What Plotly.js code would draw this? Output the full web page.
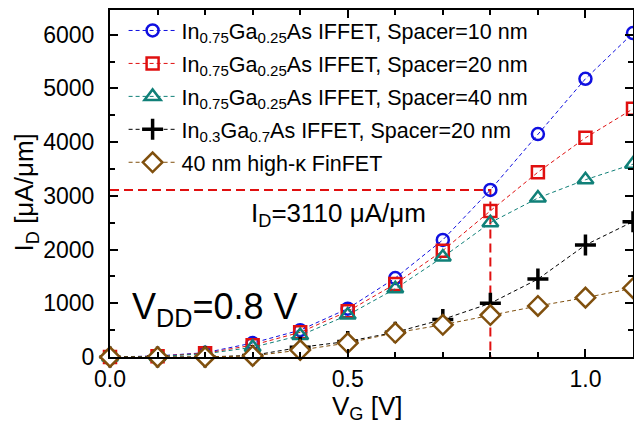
<!DOCTYPE html>
<html>
<head>
<meta charset="utf-8">
<script src="https://cdn.plot.ly/plotly-3.0.1.min.js"></script>
<style>html,body{margin:0;padding:0;background:#fff;}#chart{width:634px;height:424px;}</style>
</head>
<body>
<div id="chart"></div>
<script>
const vg = [0, 0.1, 0.2, 0.3, 0.4, 0.5, 0.6, 0.7, 0.8, 0.9, 1.0, 1.1];
const id_spacer10 = [0, 20, 80, 260, 500, 900, 1470, 2180, 3110, 4150, 5180, 6030];
const id_spacer20 = [0, 15, 70, 220, 460, 850, 1360, 1980, 2720, 3440, 4080, 4620];
const id_spacer40 = [0, 10, 60, 180, 400, 780, 1270, 1860, 2500, 2960, 3300, 3590];
const id_ingaas03 = [0, 0, 0, 30, 180, 290, 460, 700, 1000, 1450, 2085, 2520];
const id_finfet   = [0, 0, 0, 20, 130, 260, 450, 600, 780, 950, 1105, 1280];
const names = [
  'In<sub>0.75</sub>Ga<sub>0.25</sub>As IFFET, Spacer=10 nm',
  'In<sub>0.75</sub>Ga<sub>0.25</sub>As IFFET, Spacer=20 nm',
  'In<sub>0.75</sub>Ga<sub>0.25</sub>As IFFET, Spacer=40 nm',
  'In<sub>0.3</sub>Ga<sub>0.7</sub>As IFFET, Spacer=20 nm',
  '40 nm high-κ FinFET'
];
const guideX = [0, 0.8, 0.8];
const guideY = [3110, 3110, 0];

const font = 'Liberation Sans, Arial, sans-serif';
function tr(y, name, color, symbol, size, lw, fill, grp) {
  return {
    x: vg, y: y, name: name, type: 'scatter', mode: 'lines+markers', cliponaxis: false,
    legendgroup: grp,
    line: {color: color, width: 1, dash: '4px,3px'},
    marker: {symbol: symbol, size: size, color: fill || color, line: {color: color, width: lw}}
  };
}
const data = [
  {x: guideX, y: guideY, mode: 'lines', showlegend: false, hoverinfo: 'skip',
   line: {color: '#e01010', width: 2, dash: '9px,5px'}},
  tr(id_spacer10, names[0], '#1010e0', 'circle-open', 12, 2.5, null, 'a'),
  tr(id_spacer20, names[1], '#e01010', 'square-open', 12, 2.5, null, 'b'),
  tr(id_spacer40, names[2], '#108078', 'triangle-up-open', 14, 2.5, null, 'c'),
  tr(id_ingaas03, names[3], '#000000', 'cross-thin-open', 15, 3.5, null, 'd'),
  tr(id_finfet, names[4], '#80500e', 'diamond', 15, 2.5, '#ffffff', 'e')
];
const axisCommon = {
  showline: true, linecolor: '#000', linewidth: 2, mirror: 'allticks',
  ticks: 'inside', ticklen: 8, tickwidth: 2, tickcolor: '#000',
  showgrid: false, zeroline: false,
  tickfont: {family: font, size: 23, color: '#000'}
};
const layout = {
  width: 634, height: 424,
  margin: {l: 110, r: 1, t: 10, b: 67},
  paper_bgcolor: '#fff', plot_bgcolor: '#fff',
  font: {family: font, color: '#000'},
  xaxis: Object.assign({}, axisCommon, {
    range: [0, 1.1], dtick: 0.5, tick0: 0, tickformat: '.1f', ticklabelstandoff: 0,
    minor: {dtick: 0.1, ticks: 'inside', ticklen: 5, tickwidth: 2, tickcolor: '#000'}
  }),
  yaxis: Object.assign({}, axisCommon, {
    range: [0, 6460], dtick: 1000, tick0: 0, ticklabelstandoff: 9,
    minor: {dtick: 500, ticks: 'inside', ticklen: 5, tickwidth: 2, tickcolor: '#000'}
  }),
  legend: {x: 0.026, y: 1.0, xanchor: 'left', yanchor: 'top', bgcolor: 'rgba(0,0,0,0)',
    font: {family: font, size: 21.5, color: '#000'}, itemwidth: 48, tracegroupgap: 2},
  showlegend: true,
  annotations: [
    {x: 0.481, y: 2650, xref: 'x', yref: 'y', text: 'I<sub>D</sub>=3110 μA/μm', showarrow: false,
     xanchor: 'center', yanchor: 'middle', font: {family: font, size: 26, color: '#000'}},
    {x: 0.22, y: 900, xref: 'x', yref: 'y', text: 'V<sub>DD</sub>=0.8 V', showarrow: false,
     xanchor: 'center', yanchor: 'middle', font: {family: font, size: 36, color: '#000'}},
    {x: -0.162, y: 0.475, xref: 'paper', yref: 'paper', text: 'I<sub>D</sub> [μA/μm]', textangle: -90,
     xanchor: 'center', yanchor: 'middle', showarrow: false, font: {family: font, size: 26, color: '#000'}},
    {x: 0.493, y: -0.145, xref: 'paper', yref: 'paper', text: 'V<sub>G</sub> [V]',
     xanchor: 'center', yanchor: 'middle', showarrow: false, font: {family: font, size: 26, color: '#000'}}
  ]
};
Plotly.newPlot('chart', data, layout, {displayModeBar: false, staticPlot: true});
</script>
</body>
</html>
